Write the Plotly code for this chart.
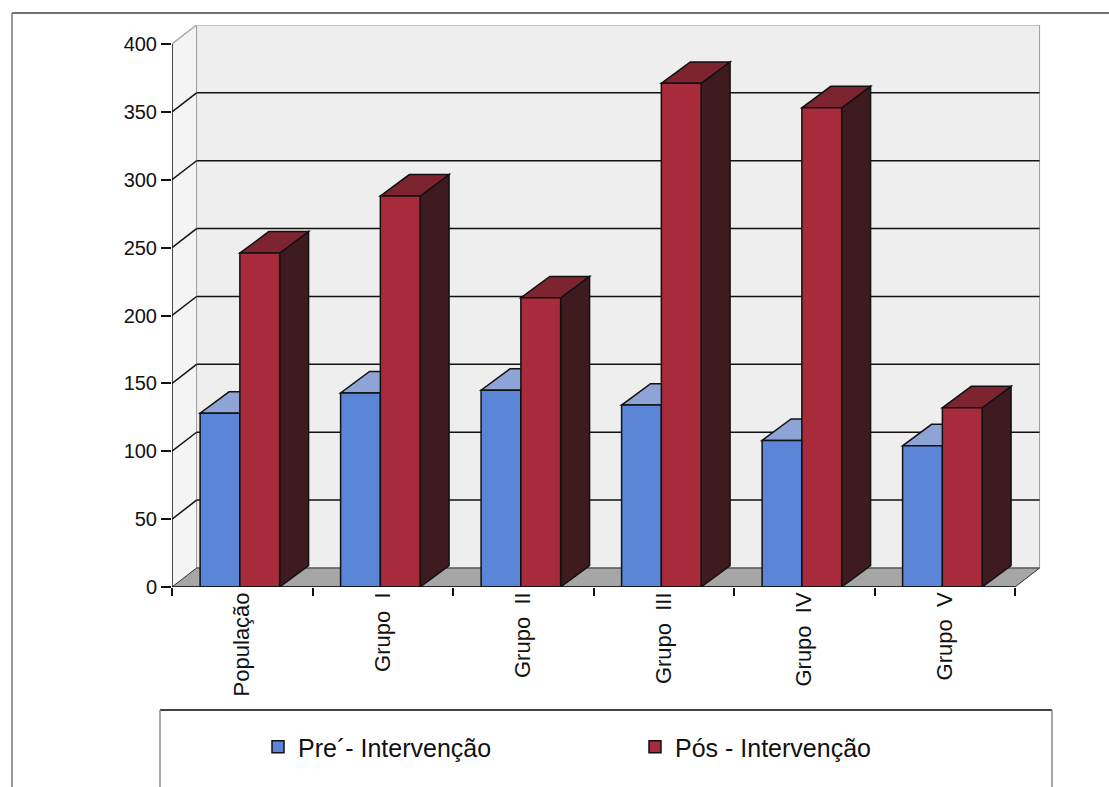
import plotly.graph_objects as go

categories = ["População", "Grupo  I", "Grupo  II", "Grupo  III", "Grupo  IV", "Grupo  V"]
pre_values = [128, 143, 145, 134, 108, 104]
pos_values = [246, 288, 213, 371, 353, 132]
y_ticks = [0, 50, 100, 150, 200, 250, 300, 350, 400]
series_names = ["Pre´- Intervenção", "Pós - Intervenção"]

W, H = 1109, 787
ML, MR, MT, MB = 172, 68, 25, 200
PW, PH = W - ML - MR, H - MT - MB

XMIN, XMAX = -0.5, len(categories) - 0.5 + 0.185
YMAX = 414

DXW, DYW = 0.175, 14.0      # wall depth offset (data units)
DXB, DYB = 0.206, 15.8      # bar depth offset (data units)
BW = 0.283                  # bar width
OFF_PRE, OFF_POS = -0.30, -0.017

FONT = "Liberation Sans, Arial, sans-serif"

def px(xp):
    return (xp - ML) / PW

def py(yp):
    return (H - MB - yp) / PH

def path(pts):
    return "M " + " L ".join(f"{a},{b}" for a, b in pts) + " Z"

shapes = []
x0, x1 = -0.5, len(categories) - 0.5
wall_fill = "#eeeeee"
# side wall
shapes.append(dict(type="path", xref="x", yref="y", layer="below",
                   path=path([(x0, 0), (x0, 400), (x0 + DXW, 400 + DYW), (x0 + DXW, DYW)]),
                   fillcolor="#f4f4f4", line=dict(width=0)))
# back wall
shapes.append(dict(type="path", xref="x", yref="y", layer="below",
                   path=path([(x0 + DXW, DYW), (x0 + DXW, 400 + DYW), (x1 + DXW, 400 + DYW), (x1 + DXW, DYW)]),
                   fillcolor=wall_fill, line=dict(color="#9a9a9a", width=1)))
# floor
shapes.append(dict(type="path", xref="x", yref="y", layer="below",
                   path=path([(x0, 0), (x0 + DXW, DYW), (x1 + DXW, DYW), (x1, 0)]),
                   fillcolor="#a6a6a6", line=dict(color="#333333", width=1)))
# top diagonal (gray)
shapes.append(dict(type="line", xref="x", yref="y", layer="below",
                   x0=x0, y0=400, x1=x0 + DXW, y1=400 + DYW, line=dict(color="#aaaaaa", width=1.5)))
# gridlines on back wall + diagonals on side wall
for v in y_ticks[1:-1]:
    shapes.append(dict(type="line", xref="x", yref="y", layer="below",
                       x0=x0 + DXW, y0=v + DYW, x1=x1 + DXW, y1=v + DYW,
                       line=dict(color="#111111", width=1.5)))
    shapes.append(dict(type="line", xref="x", yref="y", layer="below",
                       x0=x0, y0=v, x1=x0 + DXW, y1=v + DYW,
                       line=dict(color="#111111", width=1.5)))

# 3D tops and sides of bars
def bar_faces(values, offset, top_col, side_col):
    for i, v in enumerate(values):
        a = i + offset
        b = a + BW
        shapes.append(dict(type="path", xref="x", yref="y", layer="below",
                           path=path([(b, 0), (b, v), (b + DXB, v + DYB), (b + DXB, DYB)]),
                           fillcolor=side_col, line=dict(color="#111111", width=1.5)))
        shapes.append(dict(type="path", xref="x", yref="y", layer="below",
                           path=path([(a, v), (b, v), (b + DXB, v + DYB), (a + DXB, v + DYB)]),
                           fillcolor=top_col, line=dict(color="#111111", width=1.5)))

bar_faces(pre_values, OFF_PRE, "#8ea3d6", "#3b4f8a")
bar_faces(pos_values, OFF_POS, "#7e2431", "#3f1b20")

# front axis lines
shapes.append(dict(type="line", xref="x", yref="y", layer="above",
                   x0=x0, y0=0, x1=x0, y1=400, line=dict(color="#111111", width=1.5)))
shapes.append(dict(type="line", xref="x", yref="y", layer="above",
                   x0=x0, y0=0, x1=x1, y1=0, line=dict(color="#111111", width=1.5)))

# outer frame (top and left lines)
shapes.append(dict(type="line", xref="paper", yref="paper",
                   x0=px(12), y0=py(13), x1=px(1109), y1=py(13), line=dict(color="#444444", width=1.5)))
shapes.append(dict(type="line", xref="paper", yref="paper",
                   x0=px(12), y0=py(13), x1=px(12), y1=py(787), line=dict(color="#777777", width=1.5)))
# legend box
shapes.append(dict(type="line", xref="paper", yref="paper",
                   x0=px(160), y0=py(710), x1=px(1052), y1=py(710), line=dict(color="#444444", width=2)))
shapes.append(dict(type="line", xref="paper", yref="paper",
                   x0=px(160), y0=py(710), x1=px(160), y1=py(800), line=dict(color="#888888", width=1.5)))
shapes.append(dict(type="line", xref="paper", yref="paper",
                   x0=px(1052), y0=py(710), x1=px(1052), y1=py(800), line=dict(color="#888888", width=1.5)))

fig = go.Figure()
fig.add_trace(go.Bar(x=categories, y=pre_values, name=series_names[0],
                     offset=OFF_PRE, width=BW,
                     marker=dict(color="#5b86d8", line=dict(color="#111111", width=1.5))))
fig.add_trace(go.Bar(x=categories, y=pos_values, name=series_names[1],
                     offset=OFF_POS, width=BW,
                     marker=dict(color="#a82b3c", line=dict(color="#111111", width=1.5))))

fig.update_layout(
    width=W, height=H,
    margin=dict(l=ML, r=MR, t=MT, b=MB),
    paper_bgcolor="white", plot_bgcolor="white",
    font=dict(family=FONT, size=20, color="#111111"),
    barmode="overlay",
    shapes=shapes,
    showlegend=True,
    legend=dict(orientation="h", x=px(258), y=py(747), xanchor="left", yanchor="middle",
                entrywidth=332, entrywidthmode="pixels",
                font=dict(family=FONT, size=25, color="#111111"),
                bgcolor="rgba(0,0,0,0)", traceorder="normal"),
    xaxis=dict(type="category", range=[XMIN, XMAX], tickangle=-90,
               tickson="boundaries", ticks="outside", ticklen=8, tickwidth=1.5, tickcolor="#111111",
               showgrid=False, zeroline=False, showline=False,
               tickfont=dict(family=FONT, size=22, color="#111111")),
    yaxis=dict(range=[0, YMAX], tickmode="array", tickvals=y_ticks,
               ticks="outside", ticklen=10, tickwidth=1.5, tickcolor="#111111",
               showgrid=False, zeroline=False, showline=False,
               tickfont=dict(family=FONT, size=20, color="#111111")),
)

fig.write_html("out.html")
